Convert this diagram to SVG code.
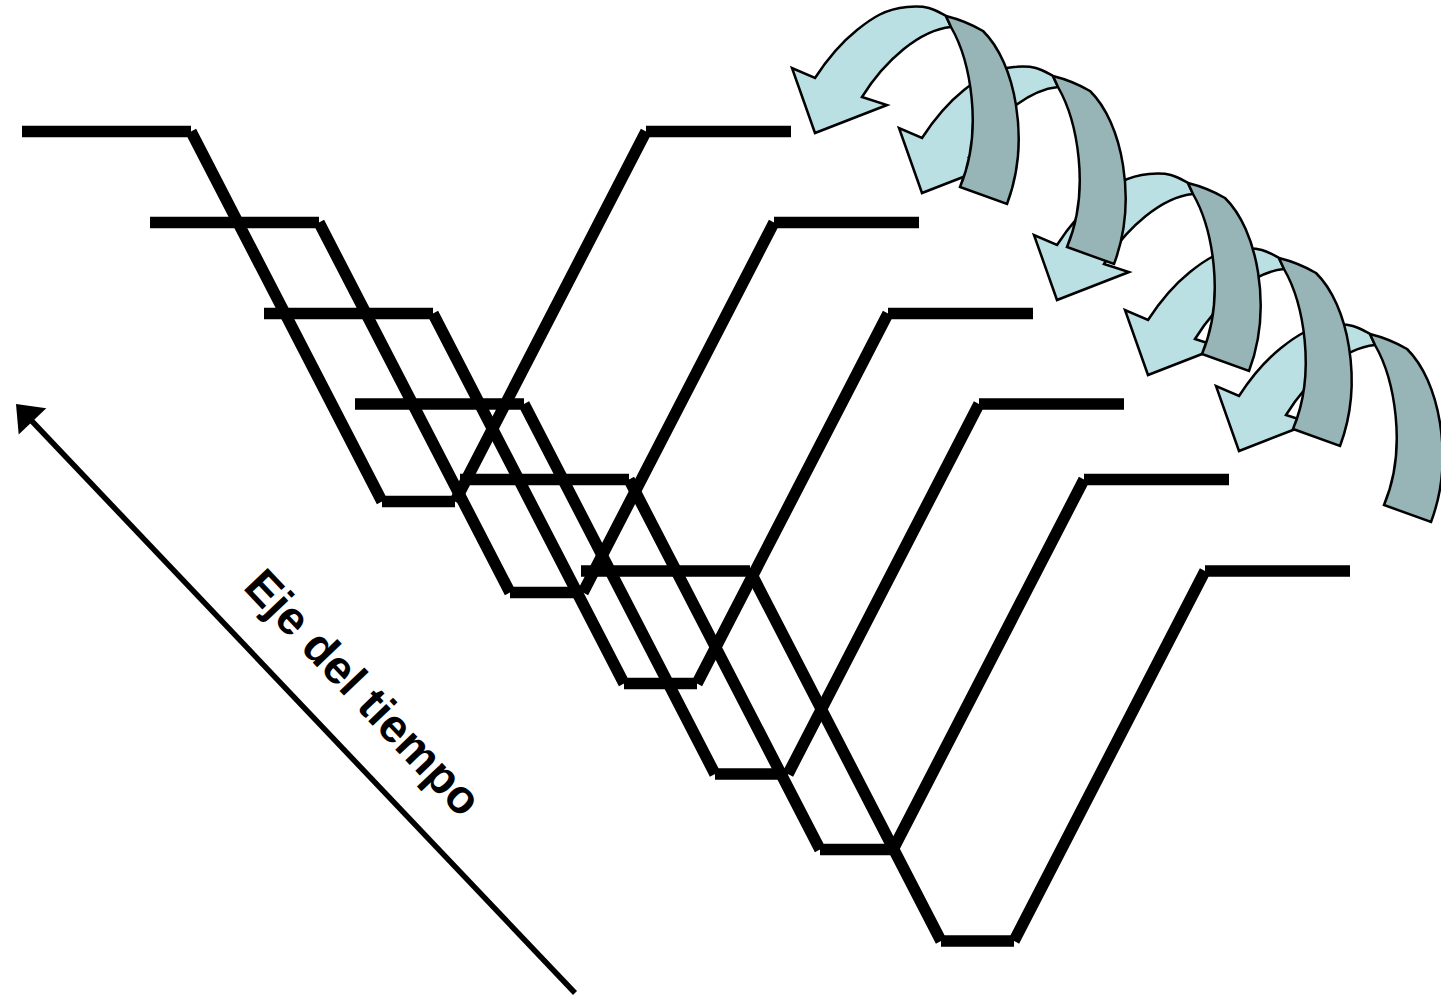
<svg xmlns="http://www.w3.org/2000/svg" xmlns:xlink="http://www.w3.org/1999/xlink" width="1441" height="996" viewBox="0 0 1441 996">
<style>
.stage{fill:none;stroke:#000;stroke-width:11.5;stroke-linecap:butt}
.light{fill:#BBE0E3;stroke:#000;stroke-width:2.5;stroke-linejoin:miter}
.dark{fill:#97B4B6;stroke:#000;stroke-width:2.5;stroke-linejoin:miter}
.axis{stroke:#000;stroke-width:5.5;fill:none}
.label{font-family:"Liberation Sans",Arial,sans-serif;font-weight:bold;font-size:47px;fill:#000}
</style>
<defs>
<path id="v" d="M0,0 H169 M169,0 L360,370 M360,370 H433 M433,370 L624,0 M624,0 H769"/>
<path id="al" d="M815,78 C828,58 842,42 857,30 S885,9 907,7 S935,10 946,16 L951,27 C920,30 885,60 862,97 L887,105 L815,133 L792,68 Z"/>
<path id="ad" d="M946,16 Q966,21 983,31 C1015,62 1031,140 1007,204 L960,187 C984,130 970,60 951,27 Z"/>
</defs>
<rect width="1441" height="996" fill="#fff"/>
<g id="stages">
<g id="stage1" transform="translate(22,131.5)"><use xlink:href="#v" class="stage"/></g>
<g id="stage2" transform="translate(150,222.5)"><use xlink:href="#v" class="stage"/></g>
<g id="stage3" transform="translate(264,313.5)"><use xlink:href="#v" class="stage"/></g>
<g id="stage4" transform="translate(355,404)"><use xlink:href="#v" class="stage"/></g>
<g id="stage5" transform="translate(460,479.5)"><use xlink:href="#v" class="stage"/></g>
<g id="stage6" transform="translate(581,571)"><use xlink:href="#v" class="stage"/></g>
</g>
<g id="curved-arrows">
<g id="arrow5" transform="translate(424,318)"><use xlink:href="#al" class="light"/><use xlink:href="#ad" class="dark"/></g>
<g id="arrow4" transform="translate(333,242)"><use xlink:href="#al" class="light"/><use xlink:href="#ad" class="dark"/></g>
<g id="arrow3" transform="translate(242,167)"><use xlink:href="#al" class="light"/><use xlink:href="#ad" class="dark"/></g>
<g id="arrow2" transform="translate(107,60)"><use xlink:href="#al" class="light"/><use xlink:href="#ad" class="dark"/></g>
<g id="arrow1"><use xlink:href="#al" class="light"/><use xlink:href="#ad" class="dark"/></g>
</g>
<g id="time-axis">
<line class="axis" x1="575" y1="993" x2="28" y2="417"/>
<polygon points="16,404 46.3,408.3 18.7,434.5" fill="#000"/>
<text class="label" transform="translate(242,588) rotate(46.5)">Eje del tiempo</text>
</g>
</svg>
